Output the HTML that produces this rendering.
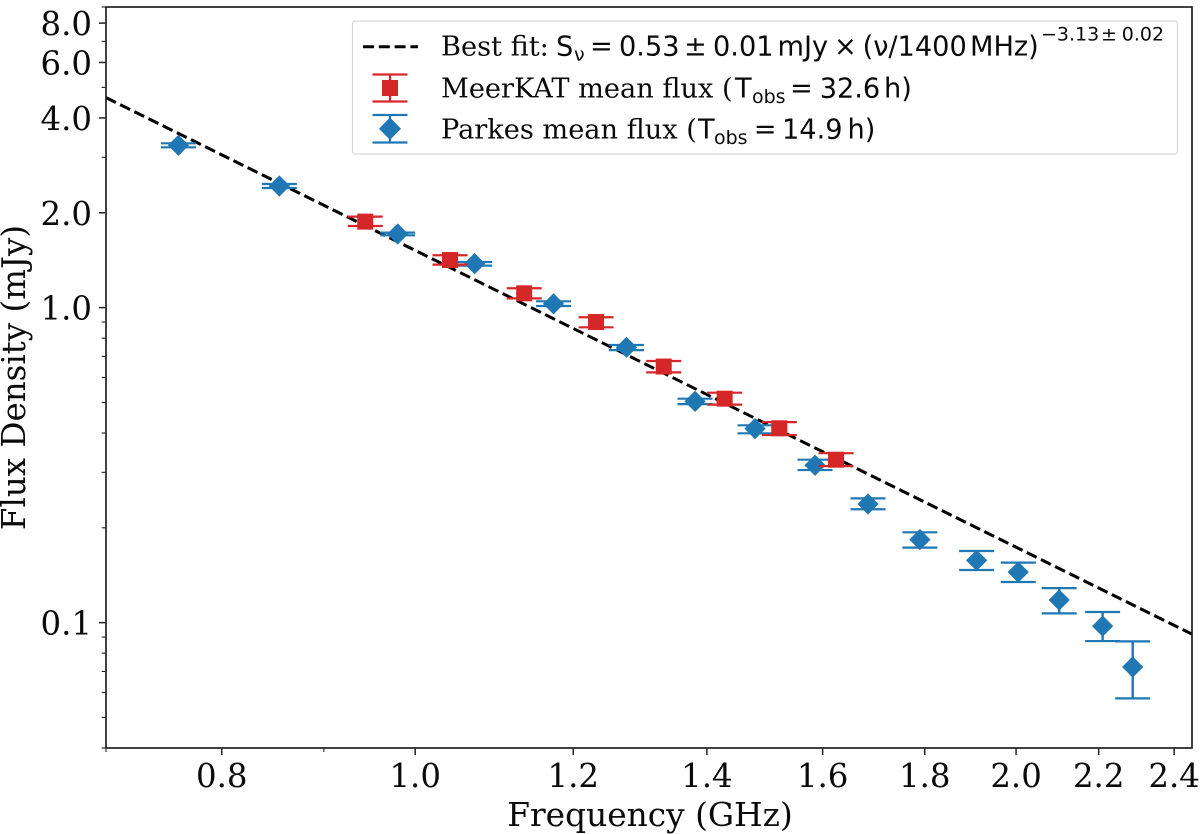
<!DOCTYPE html>
<html lang="en">
<head>
<meta charset="utf-8">
<title>Flux density vs frequency</title>
<style>
html,body{margin:0;padding:0;background:#fff;width:1200px;height:834px;overflow:hidden}
svg{display:block}
.serif{font-family:"DejaVu Serif","Liberation Serif",serif;fill:#0a0a0a}
.sans{font-family:"DejaVu Sans","Liberation Sans",sans-serif;fill:#0a0a0a}
</style>
</head>
<body>
<svg id="chart" xmlns="http://www.w3.org/2000/svg" width="1200" height="834" viewBox="0 0 1200 834">
  <rect x="0" y="0" width="1200" height="834" fill="#ffffff"/>
  <defs><clipPath id="plot-clip"><rect x="106" y="7" width="1086" height="741"/></clipPath></defs>
  <g id="ticks"></g>
  <g id="series"></g>
  <rect x="106" y="7" width="1086" height="741" fill="none" stroke="#222" stroke-width="1.7"/>
  <text class="serif" x="650" y="826" font-size="32.8" text-anchor="middle">Frequency (GHz)</text>
  <text class="serif" transform="translate(25,377.5) rotate(-90)" font-size="32.5" text-anchor="middle">Flux Density (mJy)</text>

  <g>
    <rect x="352.5" y="21" width="825" height="133" rx="3" fill="#fff" stroke="#d6d6d6" stroke-width="1.2"/>
    <line x1="363" y1="46.7" x2="418" y2="46.7" stroke="#000" stroke-width="3" stroke-dasharray="11 4.8"/>
    <text font-size="27.2" y="55.7"><tspan class="serif" x="441">Best fit:</tspan><tspan class="sans" x="556">S</tspan><tspan class="sans" x="574" dy="5.5" font-size="19">ν</tspan><tspan class="sans" x="590" dy="-5.5">=</tspan><tspan class="sans" x="619">0.53</tspan><tspan class="sans" x="684">±</tspan><tspan class="sans" x="713">0.01</tspan><tspan class="sans" x="777.5">mJy</tspan><tspan class="sans" x="834">×</tspan><tspan class="sans" x="862.6">(ν/1400</tspan><tspan class="sans" x="970">MHz)</tspan><tspan class="sans" x="1041" dy="-15" font-size="19">−3.13</tspan><tspan class="sans" x="1101" font-size="19">±</tspan><tspan class="sans" x="1121.8" font-size="19">0.02</tspan></text>
    <g stroke="#d62728" stroke-width="2.2">
      <line x1="390" y1="74.5" x2="390" y2="101.5"/><line x1="372.5" y1="74.5" x2="407.5" y2="74.5"/><line x1="372.5" y1="101.5" x2="407.5" y2="101.5"/>
      <rect x="382" y="80" width="16" height="16" fill="#d62728" stroke="none"/>
    </g>
    <text font-size="27.2" y="97.3"><tspan class="serif" x="441">MeerKAT mean flux (</tspan><tspan class="sans" x="735">T</tspan><tspan class="sans" x="752" dy="5.5" font-size="19">obs</tspan><tspan class="sans" x="790" dy="-5.5">=</tspan><tspan class="sans" x="819.7">32.6</tspan><tspan class="sans" x="884">h)</tspan></text>
    <g stroke="#1f77b4" stroke-width="2.2">
      <line x1="390" y1="115" x2="390" y2="142.5"/><line x1="372.5" y1="115" x2="407.5" y2="115"/><line x1="372.5" y1="142.5" x2="407.5" y2="142.5"/>
      <polygon points="390,117.5 401,128.7 390,139.9 379,128.7" fill="#1f77b4" stroke="none"/>
    </g>
    <text font-size="27.2" y="138.3"><tspan class="serif" x="441">Parkes mean flux (</tspan><tspan class="sans" x="698">T</tspan><tspan class="sans" x="714" dy="5.5" font-size="19">obs</tspan><tspan class="sans" x="753.8" dy="-5.5">=</tspan><tspan class="sans" x="782">14.9</tspan><tspan class="sans" x="847.5">h)</tspan></text>
  </g>
</svg>
<script>
// ---- chart data (GHz, mJy) ----
const xMajorTicks = [0.8, 1.0, 1.2, 1.4, 1.6, 1.8, 2.0, 2.2, 2.4];
const xMinorTicks = [0.7, 0.9];
const yMajorTicks = [0.1, 1.0, 2.0, 4.0, 6.0, 8.0];
const yMinorTicks = [0.04, 0.05, 0.06, 0.07, 0.08, 0.09, 0.2, 0.3, 0.4, 0.5, 0.6, 0.7, 0.8, 0.9, 3.0, 5.0, 7.0, 9.0];

const fitAmplitude = 0.53;
const fitIndex = -3.13;
const fitReferenceGHz = 1.4;

const meerkatFreq = [0.944, 1.041, 1.134, 1.232, 1.332, 1.429, 1.522, 1.625];
const meerkatFlux = [1.875, 1.416, 1.110, 0.900, 0.650, 0.514, 0.414, 0.329];
const meerkatLow  = [1.816, 1.369, 1.070, 0.866, 0.623, 0.492, 0.394, 0.314];
const meerkatHigh = [1.945, 1.466, 1.152, 0.932, 0.677, 0.537, 0.433, 0.345];

const parkesFreq = [0.761, 0.855, 0.980, 1.071, 1.173, 1.276, 1.381, 1.480, 1.586, 1.686, 1.790, 1.911, 2.005, 2.102, 2.210, 2.288];
const parkesFlux = [3.275, 2.432, 1.713, 1.379, 1.028, 0.748, 0.504, 0.413, 0.316, 0.238, 0.1835, 0.1577, 0.1447, 0.118, 0.0975, 0.0723];
const parkesLow  = [3.227, 2.397, 1.696, 1.359, 1.012, 0.733, 0.494, 0.399, 0.305, 0.229, 0.173, 0.1469, 0.1346, 0.107, 0.0874, 0.0575];
const parkesHigh = [3.323, 2.468, 1.730, 1.396, 1.047, 0.761, 0.514, 0.423, 0.329, 0.248, 0.1935, 0.1688, 0.1551, 0.1287, 0.1081, 0.0872];

// ---- axis functions ----
const plot = { left: 106, right: 1192, top: 7, bottom: 748 };
const xDomain = [0.7, 2.45];
const yDomain = [0.04, 9.0];
function xScale(v) {
  const a = Math.log10(xDomain[0]), b = Math.log10(xDomain[1]);
  return plot.left + (Math.log10(v) - a) / (b - a) * (plot.right - plot.left);
}
function yScale(v) {
  const a = Math.log10(yDomain[0]), b = Math.log10(yDomain[1]);
  return plot.bottom - (Math.log10(v) - a) / (b - a) * (plot.bottom - plot.top);
}

const NS = 'http://www.w3.org/2000/svg';
function mk(tag, parent, attrs) {
  const el = document.createElementNS(NS, tag);
  for (const k in attrs) el.setAttribute(k, attrs[k]);
  parent.appendChild(el);
  return el;
}
const ticksG = document.getElementById('ticks');
const seriesG = document.getElementById('series');

// ---- ticks ----
xMajorTicks.forEach(function (t) {
  const x = xScale(t);
  const tick = mk('line', ticksG, { x1: x, x2: x, y1: plot.bottom, y2: plot.bottom + 7, stroke: '#222', 'stroke-width': 1.5 });
  
  
  const label = mk('text', ticksG, { x: x, y: 787, 'text-anchor': 'middle', 'font-size': 32.4, class: 'serif' });
  label.textContent = t.toFixed(1);
  
  
});
xMinorTicks.forEach(function (t) {
  const x = xScale(t);
  const tick = mk('line', ticksG, { x1: x, x2: x, y1: plot.bottom, y2: plot.bottom + 4, stroke: '#222', 'stroke-width': 1.1 });
  
  
});
yMajorTicks.forEach(function (t) {
  const y = yScale(t);
  const tick = mk('line', ticksG, { x1: plot.left - 7, x2: plot.left, y1: y, y2: y, stroke: '#222', 'stroke-width': 1.5 });
  
  
  const label = mk('text', ticksG, { x: 92, y: y + 12, 'text-anchor': 'end', 'font-size': 32.4, class: 'serif' });
  label.textContent = t.toFixed(1);
  
  
});
yMinorTicks.forEach(function (t) {
  const y = yScale(t);
  const tick = mk('line', ticksG, { x1: plot.left - 4.3, x2: plot.left, y1: y, y2: y, stroke: '#222', 'stroke-width': 1.1 });
  
  
});

// ---- fit line ----
function fitValue(f) { return fitAmplitude * Math.pow(f / fitReferenceGHz, fitIndex); }
const fitLine = mk('line', seriesG, {
  x1: xScale(xDomain[0]), y1: yScale(fitValue(xDomain[0])),
  x2: xScale(xDomain[1]), y2: yScale(fitValue(xDomain[1])),
  stroke: '#000', 'stroke-width': 3, 'stroke-dasharray': '11 4.8', 'clip-path': 'url(#plot-clip)'
});



// ---- error bars and markers ----
const capHalf = 17.5;
function errorBars(freq, low, high, color) {
  freq.forEach(function (f, i) {
    const x = xScale(f), y0 = yScale(low[i]), y1 = yScale(high[i]);
    const stem = mk('line', seriesG, { x1: x, x2: x, y1: y0, y2: y1, stroke: color, 'stroke-width': 2.4 });
    
    
    [y0, y1].forEach(function (yy) {
      const cap = mk('line', seriesG, { x1: x - capHalf, x2: x + capHalf, y1: yy, y2: yy, stroke: color, 'stroke-width': 2.2 });
      
      
    });
  });
}
// Parkes sits beneath MeerKAT where the two overlap
errorBars(parkesFreq, parkesLow, parkesHigh, '#1f77b4');
parkesFreq.forEach(function (f, i) {
  const x = xScale(f), y = yScale(parkesFlux[i]), r = 10.6;
  const pts = [[x, y - r], [x + r, y], [x, y + r], [x - r, y]].map(function (p) { return p.join(','); }).join(' ');
  const d = mk('polygon', seriesG, { points: pts, fill: '#1f77b4' });
  
  
});
errorBars(meerkatFreq, meerkatLow, meerkatHigh, '#d62728');
meerkatFreq.forEach(function (f, i) {
  const x = xScale(f), y = yScale(meerkatFlux[i]), h = 8;
  const s = mk('rect', seriesG, { x: x - h, y: y - h, width: 2 * h, height: 2 * h, fill: '#d62728' });
  
  
});
</script>
</body>
</html>
